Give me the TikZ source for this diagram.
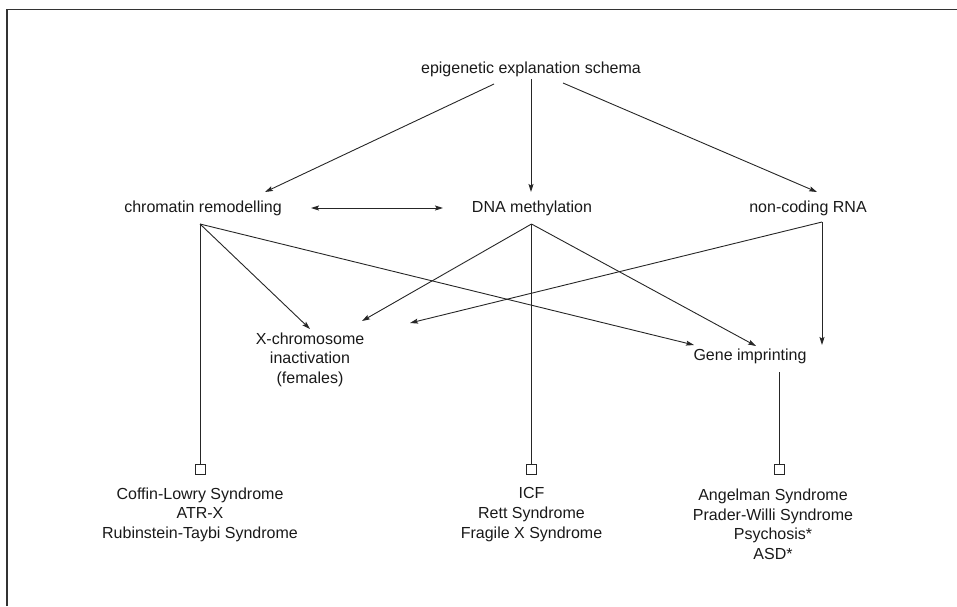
\documentclass[tikz,border=0pt]{standalone}
\usepackage{fontspec}
\setmainfont{Liberation Sans}
\usetikzlibrary{arrows.meta}
\begin{document}
\begin{tikzpicture}[x=1pt,y=-1pt,
  lbl/.style={font=\fontsize{16}{19.6}\selectfont, align=center, inner sep=0pt, text=black!90},
  conn/.style={line width=0.9pt, draw=black!85},
  arr/.style={conn, -{Stealth[length=8pt,width=5pt,inset=1.5pt]}},
  darr/.style={conn, {Stealth[length=8pt,width=5pt,inset=1.5pt]}-{Stealth[length=8pt,width=5pt,inset=1.5pt]}},
  sq/.style={draw=black!85, line width=0.9pt, fill=white, minimum size=10pt, inner sep=0pt},
  frame/.style={line width=1.6pt, draw=black!80}]
\useasboundingbox (0,0) rectangle (957,606);
% frame
\coordinate (fa) at (7,606);
\coordinate (fb) at (7,9.5);
\coordinate (fc) at (957,9.5);
\draw[frame] (fa) -- (fb) -- (fc);

% nodes
\node[lbl] (root) at (531,69) {epigenetic explanation schema};
\node[lbl] (chrom) at (203,208) {chromatin remodelling};
\node[lbl] (dna) at (532,208) {DNA methylation};
\node[lbl] (ncrna) at (808,208) {non-coding RNA};
\node[lbl] (xchr) at (310,359.5) {X-chromosome\\inactivation\\(females)};
\node[lbl] (gene) at (750,356) {Gene imprinting};
\node[sq] (b1) at (200,469) {};
\node[sq] (b2) at (531.5,469) {};
\node[sq] (b3) at (779,469) {};
\node[lbl] (d1) at (200,514.6) {Coffin-Lowry Syndrome\\ATR-X\\Rubinstein-Taybi Syndrome};
\node[lbl] (d2) at (531.5,514.6) {ICF\\Rett Syndrome\\Fragile X Syndrome};
\node[lbl] (d3) at (773,524.4) {Angelman Syndrome\\Prader-Willi Syndrome\\Psychosis*\\ASD*};

% connector end points
\coordinate (r1) at (494,84);
\coordinate (r2) at (531,79);
\coordinate (r3) at (563,83);
\coordinate (t1) at (265,192);
\coordinate (t2) at (531,192);
\coordinate (t3) at (817,192);
\coordinate (dl) at (311,208);
\coordinate (dr) at (443,208);
\coordinate (c0) at (200,224);
\coordinate (d0) at (531.5,224);
\coordinate (n0) at (822,222);
\coordinate (g0) at (779,372);
\coordinate (xt1) at (310,329);
\coordinate (xt2) at (362,321);
\coordinate (xt3) at (410,323);
\coordinate (gt1) at (694,345);
\coordinate (gt2) at (756,346);
\coordinate (gt3) at (822,345);

\draw[arr] (r1) -- (t1);
\draw[arr] (r2) -- (t2);
\draw[arr] (r3) -- (t3);
\draw[darr] (dl) -- (dr);

\draw[conn] (c0) -- (b1.north);
\draw[arr] (c0) -- (xt1);
\draw[arr] (c0) -- (gt1);

\draw[conn] (d0) -- (b2.north);
\draw[arr] (d0) -- (xt2);
\draw[arr] (d0) -- (gt2);

\draw[arr] (n0) -- (xt3);
\draw[arr] (n0) -- (gt3);

\draw[conn] (g0) -- (b3.north);
\end{tikzpicture}
\end{document}
